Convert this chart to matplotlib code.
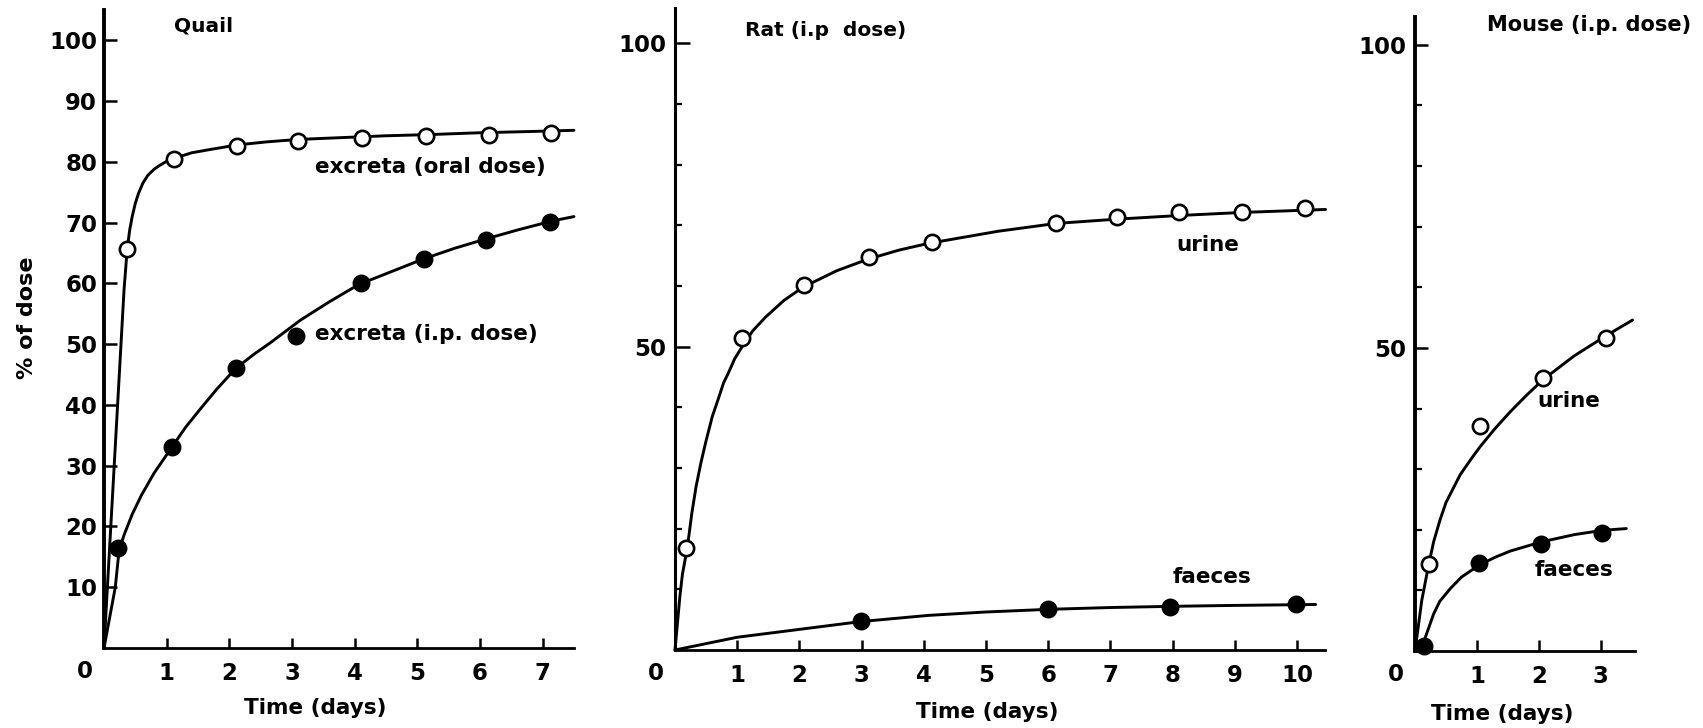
import matplotlib
matplotlib.use("Agg")
import matplotlib.pyplot as plt

plt.rcParams['font.family'] = ['DejaVu Sans']
plt.rcParams['font.weight'] = 'bold'

# ---------------- data ----------------
# Quail
quail_oral_t = [0.37, 1.12, 2.13, 3.10, 4.12, 5.14, 6.15, 7.13]
quail_oral_y = [65.6, 80.4, 82.6, 83.4, 83.9, 84.3, 84.5, 84.8]
quail_oral_curve_t = [0, 0.32, 0.37, 0.41, 0.45, 0.50, 0.55, 0.62, 0.70, 0.80, 0.90, 1.00, 1.12, 1.40, 1.67, 2.13, 2.60, 3.10, 3.80, 4.50, 5.20, 6.00, 6.80, 7.50]
quail_oral_curve_y = [0, 59.0, 65.6, 68.8, 71.0, 73.2, 74.8, 76.5, 77.8, 78.8, 79.5, 80.1, 80.6, 81.5, 82.0, 82.8, 83.3, 83.7, 84.0, 84.3, 84.5, 84.8, 85.0, 85.2]
quail_ip_t = [0.22, 1.08, 2.10, 3.07, 4.10, 5.10, 6.10, 7.12]
quail_ip_y = [16.5, 33.0, 46.0, 51.3, 60.0, 64.0, 67.2, 70.1]
quail_ip_curve_t = [0, 0.18, 0.24, 0.32, 0.45, 0.60, 0.80, 1.08, 1.30, 1.55, 1.80, 2.10, 2.40, 2.65, 3.14, 3.60, 4.06, 4.60, 5.09, 5.60, 6.12, 6.60, 7.16, 7.50]
quail_ip_curve_y = [0, 10.0, 16.0, 18.6, 22.0, 25.2, 28.8, 33.0, 36.3, 39.5, 42.6, 46.0, 48.4, 50.2, 54.0, 57.0, 59.8, 62.0, 64.0, 65.8, 67.4, 68.8, 70.3, 71.0]

# Rat (i.p. dose)
rat_urine_t = [0.17, 1.07, 2.07, 3.12, 4.13, 6.13, 7.10, 8.10, 9.12, 10.13]
rat_urine_y = [16.8, 51.4, 60.2, 64.8, 67.3, 70.4, 71.3, 72.2, 72.2, 72.9]
rat_urine_curve_t = [0, 0.08, 0.12, 0.20, 0.27, 0.34, 0.42, 0.50, 0.60, 0.70, 0.78, 0.86, 0.96, 1.08, 1.25, 1.46, 1.75, 2.06, 2.60, 3.10, 3.60, 4.07, 5.19, 6.13, 7.10, 8.10, 9.10, 10.46]
rat_urine_curve_y = [0, 9.0, 12.5, 17.0, 22.5, 27.0, 31.0, 34.5, 38.5, 41.5, 44.0, 45.7, 48.0, 50.0, 52.6, 54.9, 57.6, 59.8, 62.5, 64.4, 65.9, 67.0, 69.0, 70.3, 71.0, 71.6, 72.1, 72.6]
rat_faeces_t = [2.99, 6.00, 7.96, 9.99]
rat_faeces_y = [4.7, 6.7, 7.1, 7.6]
rat_faeces_curve_t = [0, 1.00, 2.00, 3.00, 4.07, 4.97, 6.00, 7.00, 8.00, 9.00, 10.30]
rat_faeces_curve_y = [0, 2.1, 3.4, 4.7, 5.7, 6.25, 6.7, 7.0, 7.2, 7.35, 7.5]

# Mouse (i.p. dose)
mouse_urine_t = [0.22, 1.05, 2.07, 3.08]
mouse_urine_y = [14.3, 37.2, 45.1, 51.7]
mouse_urine_curve_t = [0, 0.11, 0.22, 0.30, 0.40, 0.50, 0.73, 0.90, 1.05, 1.30, 1.54, 1.80, 2.07, 2.57, 3.08, 3.51]
mouse_urine_curve_y = [0, 8.4, 14.2, 18.0, 21.5, 24.5, 29.1, 31.6, 33.7, 36.8, 39.5, 42.2, 44.8, 48.7, 52.0, 54.6]
mouse_faeces_t = [0.14, 1.04, 2.04, 3.02]
mouse_faeces_y = [0.8, 14.6, 17.6, 19.5]
mouse_faeces_curve_t = [0.14, 0.20, 0.30, 0.40, 0.57, 0.75, 1.04, 1.30, 1.54, 2.04, 2.57, 3.02, 3.41]
mouse_faeces_curve_y = [1.5, 3.2, 6.1, 8.2, 10.3, 12.2, 14.2, 15.5, 16.5, 18.0, 19.2, 19.9, 20.2]

quail_xticks = [1, 2, 3, 4, 5, 6, 7]
quail_yticks = [10, 20, 30, 40, 50, 60, 70, 80, 90, 100]
rat_xticks = [1, 2, 3, 4, 5, 6, 7, 8, 9, 10]
rat_yticks = [50, 100]
mouse_xticks = [1, 2, 3]
mouse_yticks = [50, 100]
minor_yticks = [10, 20, 30, 40, 60, 70, 80, 90]

# ---------------- figure ----------------
W, H = 1703, 728
fig = plt.figure(figsize=(W / 100, H / 100), dpi=100)

def px_axes(left, right, bottom_y, top_y):
    return fig.add_axes([left / W, 1 - bottom_y / H, (right - left) / W, (bottom_y - top_y) / H])

ax_q = px_axes(104, 574, 648, 10)
ax_r = px_axes(675, 1325, 650, 8)
ax_m = px_axes(1415, 1635, 651, 17)

TICKFS = 16.5
TEXTFS = 15.5
LW = 2.1
MS = 11
MEW = 1.9

def style(ax, xlim, ylim, xticks, yticks, spine_lw, ylen, xlen, ypad):
    ax.set_xlim(*xlim)
    ax.set_ylim(*ylim)
    for s in ['top', 'right']:
        ax.spines[s].set_visible(False)
    ax.spines['left'].set_linewidth(spine_lw)
    ax.spines['bottom'].set_linewidth(2.0)
    ax.set_xticks(xticks)
    ax.set_yticks(yticks)
    ax.tick_params(axis='y', direction='in', length=ylen, width=1.8, pad=ypad, labelsize=TICKFS)
    ax.tick_params(axis='x', direction='in', length=xlen, width=1.8, pad=10, labelsize=TICKFS)
    for lab in ax.get_xticklabels() + ax.get_yticklabels():
        lab.set_fontweight('bold')
    ax.annotate('0', xy=(0, 0), xycoords='data', xytext=(-14, -17), textcoords='offset points',
                ha='center', va='center', fontsize=TICKFS, fontweight='bold')
    ax.patch.set_alpha(0)

def open_pts(ax, t, y):
    ax.plot(t, y, 'o', ms=MS, mfc='white', mec='black', mew=MEW, zorder=5, clip_on=False)

def closed_pts(ax, t, y):
    ax.plot(t, y, 'o', ms=MS, mfc='black', mec='black', mew=MEW, zorder=5, clip_on=False)

def curve(ax, t, y):
    ax.plot(t, y, '-', color='black', lw=LW, solid_joinstyle='round', solid_capstyle='round', clip_on=False)

# Quail
style(ax_q, (0, 7.5), (0, 105), quail_xticks, quail_yticks, 2.8, 9.5, 7, 5)
curve(ax_q, quail_oral_curve_t, quail_oral_curve_y)
curve(ax_q, quail_ip_curve_t, quail_ip_curve_y)
open_pts(ax_q, quail_oral_t, quail_oral_y)
closed_pts(ax_q, quail_ip_t, quail_ip_y)
ax_q.text(1.11, 102.3, 'Quail', fontsize=TEXTFS - 1, fontweight='bold', ha='left', va='center')
ax_q.text(3.37, 79.2, 'excreta (oral dose)', fontsize=TEXTFS, fontweight='bold', ha='left', va='center')
ax_q.text(3.37, 51.7, 'excreta (i.p. dose)', fontsize=TEXTFS, fontweight='bold', ha='left', va='center')

# Rat
style(ax_r, (0, 10.45), (0, 105.8), rat_xticks, rat_yticks, 2.2, 10.5, 7, 6)
ax_r.set_yticks(minor_yticks, minor=True)
ax_r.tick_params(axis='y', which='minor', direction='in', length=5, width=1.6)
curve(ax_r, rat_urine_curve_t, rat_urine_curve_y)
curve(ax_r, rat_faeces_curve_t, rat_faeces_curve_y)
open_pts(ax_r, rat_urine_t, rat_urine_y)
closed_pts(ax_r, rat_faeces_t, rat_faeces_y)
ax_r.text(1.13, 102.1, 'Rat (i.p  dose)', fontsize=TEXTFS - 1, fontweight='bold', ha='left', va='center')
ax_r.text(8.56, 66.7, 'urine', fontsize=TEXTFS, fontweight='bold', ha='center', va='center')
ax_r.text(8.63, 12.0, 'faeces', fontsize=TEXTFS, fontweight='bold', ha='center', va='center')

# Mouse
style(ax_m, (0, 3.55), (0, 104.6), mouse_xticks, mouse_yticks, 2.8, 9.5, 8, 6)
ax_m.set_yticks(minor_yticks, minor=True)
ax_m.tick_params(axis='y', which='minor', direction='in', length=5, width=1.6)
curve(ax_m, mouse_urine_curve_t, mouse_urine_curve_y)
curve(ax_m, mouse_faeces_curve_t, mouse_faeces_curve_y)
open_pts(ax_m, mouse_urine_t, mouse_urine_y)
closed_pts(ax_m, mouse_faeces_t, mouse_faeces_y)
ax_m.text(1.16, 103.3, 'Mouse (i.p. dose)', fontsize=TEXTFS - 0.5, fontweight='bold', ha='left', va='center')
ax_m.text(2.49, 41.2, 'urine', fontsize=TEXTFS, fontweight='bold', ha='center', va='center')
ax_m.text(2.57, 13.4, 'faeces', fontsize=TEXTFS, fontweight='bold', ha='center', va='center')

# axis titles
fig.text(315 / W, 1 - 708 / H, 'Time (days)', fontsize=TEXTFS, fontweight='bold', ha='center', va='center')
fig.text(987 / W, 1 - 712 / H, 'Time (days)', fontsize=TEXTFS, fontweight='bold', ha='center', va='center')
fig.text(1502 / W, 1 - 714 / H, 'Time (days)', fontsize=TEXTFS, fontweight='bold', ha='center', va='center')
fig.text(27 / W, 1 - 318 / H, '% of dose', fontsize=16, fontweight='bold', ha='center', va='center', rotation=90)

fig.savefig('out.png', dpi=100)
